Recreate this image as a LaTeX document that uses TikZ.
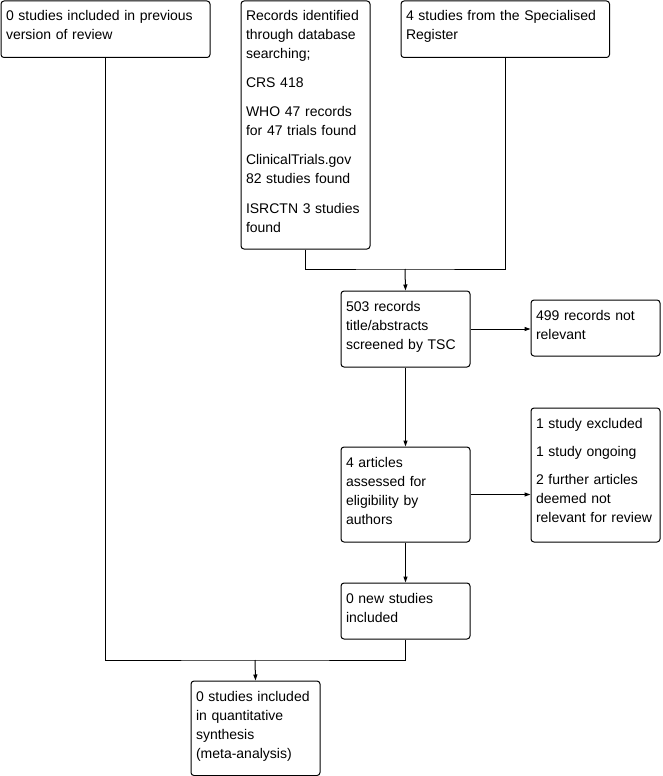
\documentclass[tikz,border=0pt]{standalone}
\usepackage{fontspec}
\setmainfont{Liberation Sans}
\usetikzlibrary{arrows.meta}

\begin{document}
\begin{tikzpicture}[x=1pt, y=-1pt, line width=1pt,
    stage/.style 2 args={draw, rounded corners=3pt, anchor=north west,
      inner xsep=5pt, inner ysep=0pt, align=left,
      font=\fontsize{14}{19}\selectfont,
      text height=20pt, text width=#1, text depth=#2},
    arr/.style={-{Triangle[length=6pt, width=4pt]}}]
  \useasboundingbox (0,0) rectangle (662,776);
  % sources
  \node[stage={199pt}{36.5pt}] (prev) at (0.5,0.5) {0 studies included in previous\\version of review};
  \node[stage={119pt}{228pt}] (recs) at (240.5,0.5) {Records identified\\through database\\searching;\\[10pt]
    CRS 418\\[10pt]WHO 47 records\\for 47 trials found\\[10pt]ClinicalTrials.gov\\82 studies found\\[10pt]ISRCTN 3 studies\\found};
  \node[stage={198.5pt}{36.5pt}] (reg) at (400.5,0.5) {4 studies from the Specialised\\Register};
  % screening
  \node[stage={119pt}{56pt}] (screen) at (340.5,290.5) {503 records\\title/abstracts\\screened by TSC};
  \node[stage={119pt}{36pt}] (notrel) at (530.5,299.5) {499 records not\\relevant};
  \node[stage={119pt}{75pt}] (assess) at (340.5,446.5) {4 articles\\assessed for\\eligibility by\\authors};
  \node[stage={119pt}{114pt}] (excl) at (530.5,407.5) {1 study excluded\\[9pt]1 study ongoing\\[9pt]2 further articles\\deemed not\\relevant for review};
  \node[stage={119pt}{36pt}] (new) at (340.5,582.5) {0 new studies\\included};
  \node[stage={119pt}{74.5pt}] (synth) at (190.5,680.5) {0 studies included\\in quantitative\\synthesis\\(meta-analysis)};
  % connectors
  \coordinate (jtop) at (405,269);
  \coordinate (jbot) at (255,660);
  \draw (recs.south) |- (jtop) -| (reg.south);
  \draw[arr] (jtop) -- (screen.north);
  \draw[arr] (screen.east) -- (screen.east -| notrel.west);
  \draw[arr] (screen.south) -- (assess.north);
  \draw[arr] (assess.east) -- (assess.east -| excl.west);
  \draw[arr] (assess.south) -- (new.north);
  \draw (prev.south) |- (jbot) -| (new.south);
  \draw[arr] (jbot) -- (synth.north);
\end{tikzpicture}
\end{document}
